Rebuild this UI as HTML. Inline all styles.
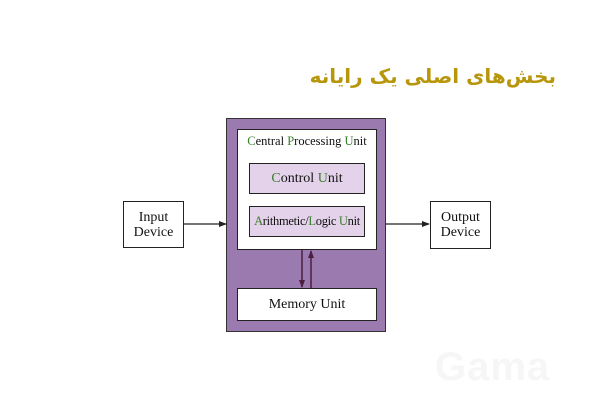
<!DOCTYPE html><html><head><meta charset="utf-8"><style>
body{margin:0;width:600px;height:400px;background:#fff;position:relative;overflow:hidden;font-family:"Liberation Serif",serif;}
.b{position:absolute;box-sizing:border-box;border:1px solid #222;display:flex;align-items:center;justify-content:center;text-align:center;color:#111}
.g{color:#3a7d2c}
</style></head><body>
<div style="position:absolute;left:250px;width:306px;top:64px;text-align:right;white-space:nowrap;font-family:'DejaVu Sans','Noto Sans CJK SC',sans-serif;font-weight:bold;font-size:20px;color:#b8960c;direction:rtl">بخش‌های اصلی یک رایانه</div>
<div class="b" style="left:123px;top:201px;width:61px;height:47px;font-size:14px;line-height:15px">Input<br>Device</div>
<div class="b" style="left:430px;top:201px;width:61px;height:48px;font-size:14px;line-height:15px">Output<br>Device</div>
<div class="b" style="left:226px;top:118px;width:160px;height:214px;background:#9a7aaf;border-color:#333"></div>
<div class="b" style="left:237px;top:129px;width:140px;height:121px;background:#fff;align-items:flex-start;padding-top:4px;font-size:12.5px"><span><span class="g">C</span>entral <span class="g">P</span>rocessing <span class="g">U</span>nit</span></div>
<div class="b" style="left:249px;top:163px;width:116px;height:31px;background:#e3d2e9;font-size:14px"><span><span class="g">C</span>ontrol <span class="g">U</span>nit</span></div>
<div class="b" style="left:249px;top:206px;width:116px;height:31px;background:#e3d2e9;font-size:12.5px;letter-spacing:-0.3px"><span><span class="g">A</span>rithmetic/<span class="g">L</span>ogic <span class="g">U</span>nit</span></div>
<div class="b" style="left:237px;top:288px;width:140px;height:33px;background:#fff;font-size:14px">Memory Unit</div>
<svg width="600" height="400" style="position:absolute;left:0;top:0">
<defs><marker id="a" markerUnits="userSpaceOnUse" markerWidth="8" markerHeight="8" refX="7" refY="4" orient="auto"><path d="M0,1 L8,4 L0,7z" fill="#222"/></marker>
<marker id="c" markerUnits="userSpaceOnUse" markerWidth="8" markerHeight="8" refX="7" refY="4" orient="auto"><path d="M0,1 L8,4 L0,7z" fill="#4a1f3f"/></marker></defs>
<line x1="184" y1="224" x2="226" y2="224" stroke="#222" stroke-width="1.2" marker-end="url(#a)"/>
<line x1="386" y1="224" x2="429" y2="224" stroke="#222" stroke-width="1.2" marker-end="url(#a)"/>
<line x1="302" y1="250" x2="302" y2="287" stroke="#4a1f3f" stroke-width="1.5" marker-end="url(#c)"/>
<line x1="311" y1="288" x2="311" y2="251" stroke="#4a1f3f" stroke-width="1.5" marker-end="url(#c)"/>
</svg>
<div style="position:absolute;left:435px;top:345px;font-family:'Liberation Sans',sans-serif;font-weight:bold;font-size:40px;color:#f6f6f6;letter-spacing:1px">Gama</div>
</body></html>
